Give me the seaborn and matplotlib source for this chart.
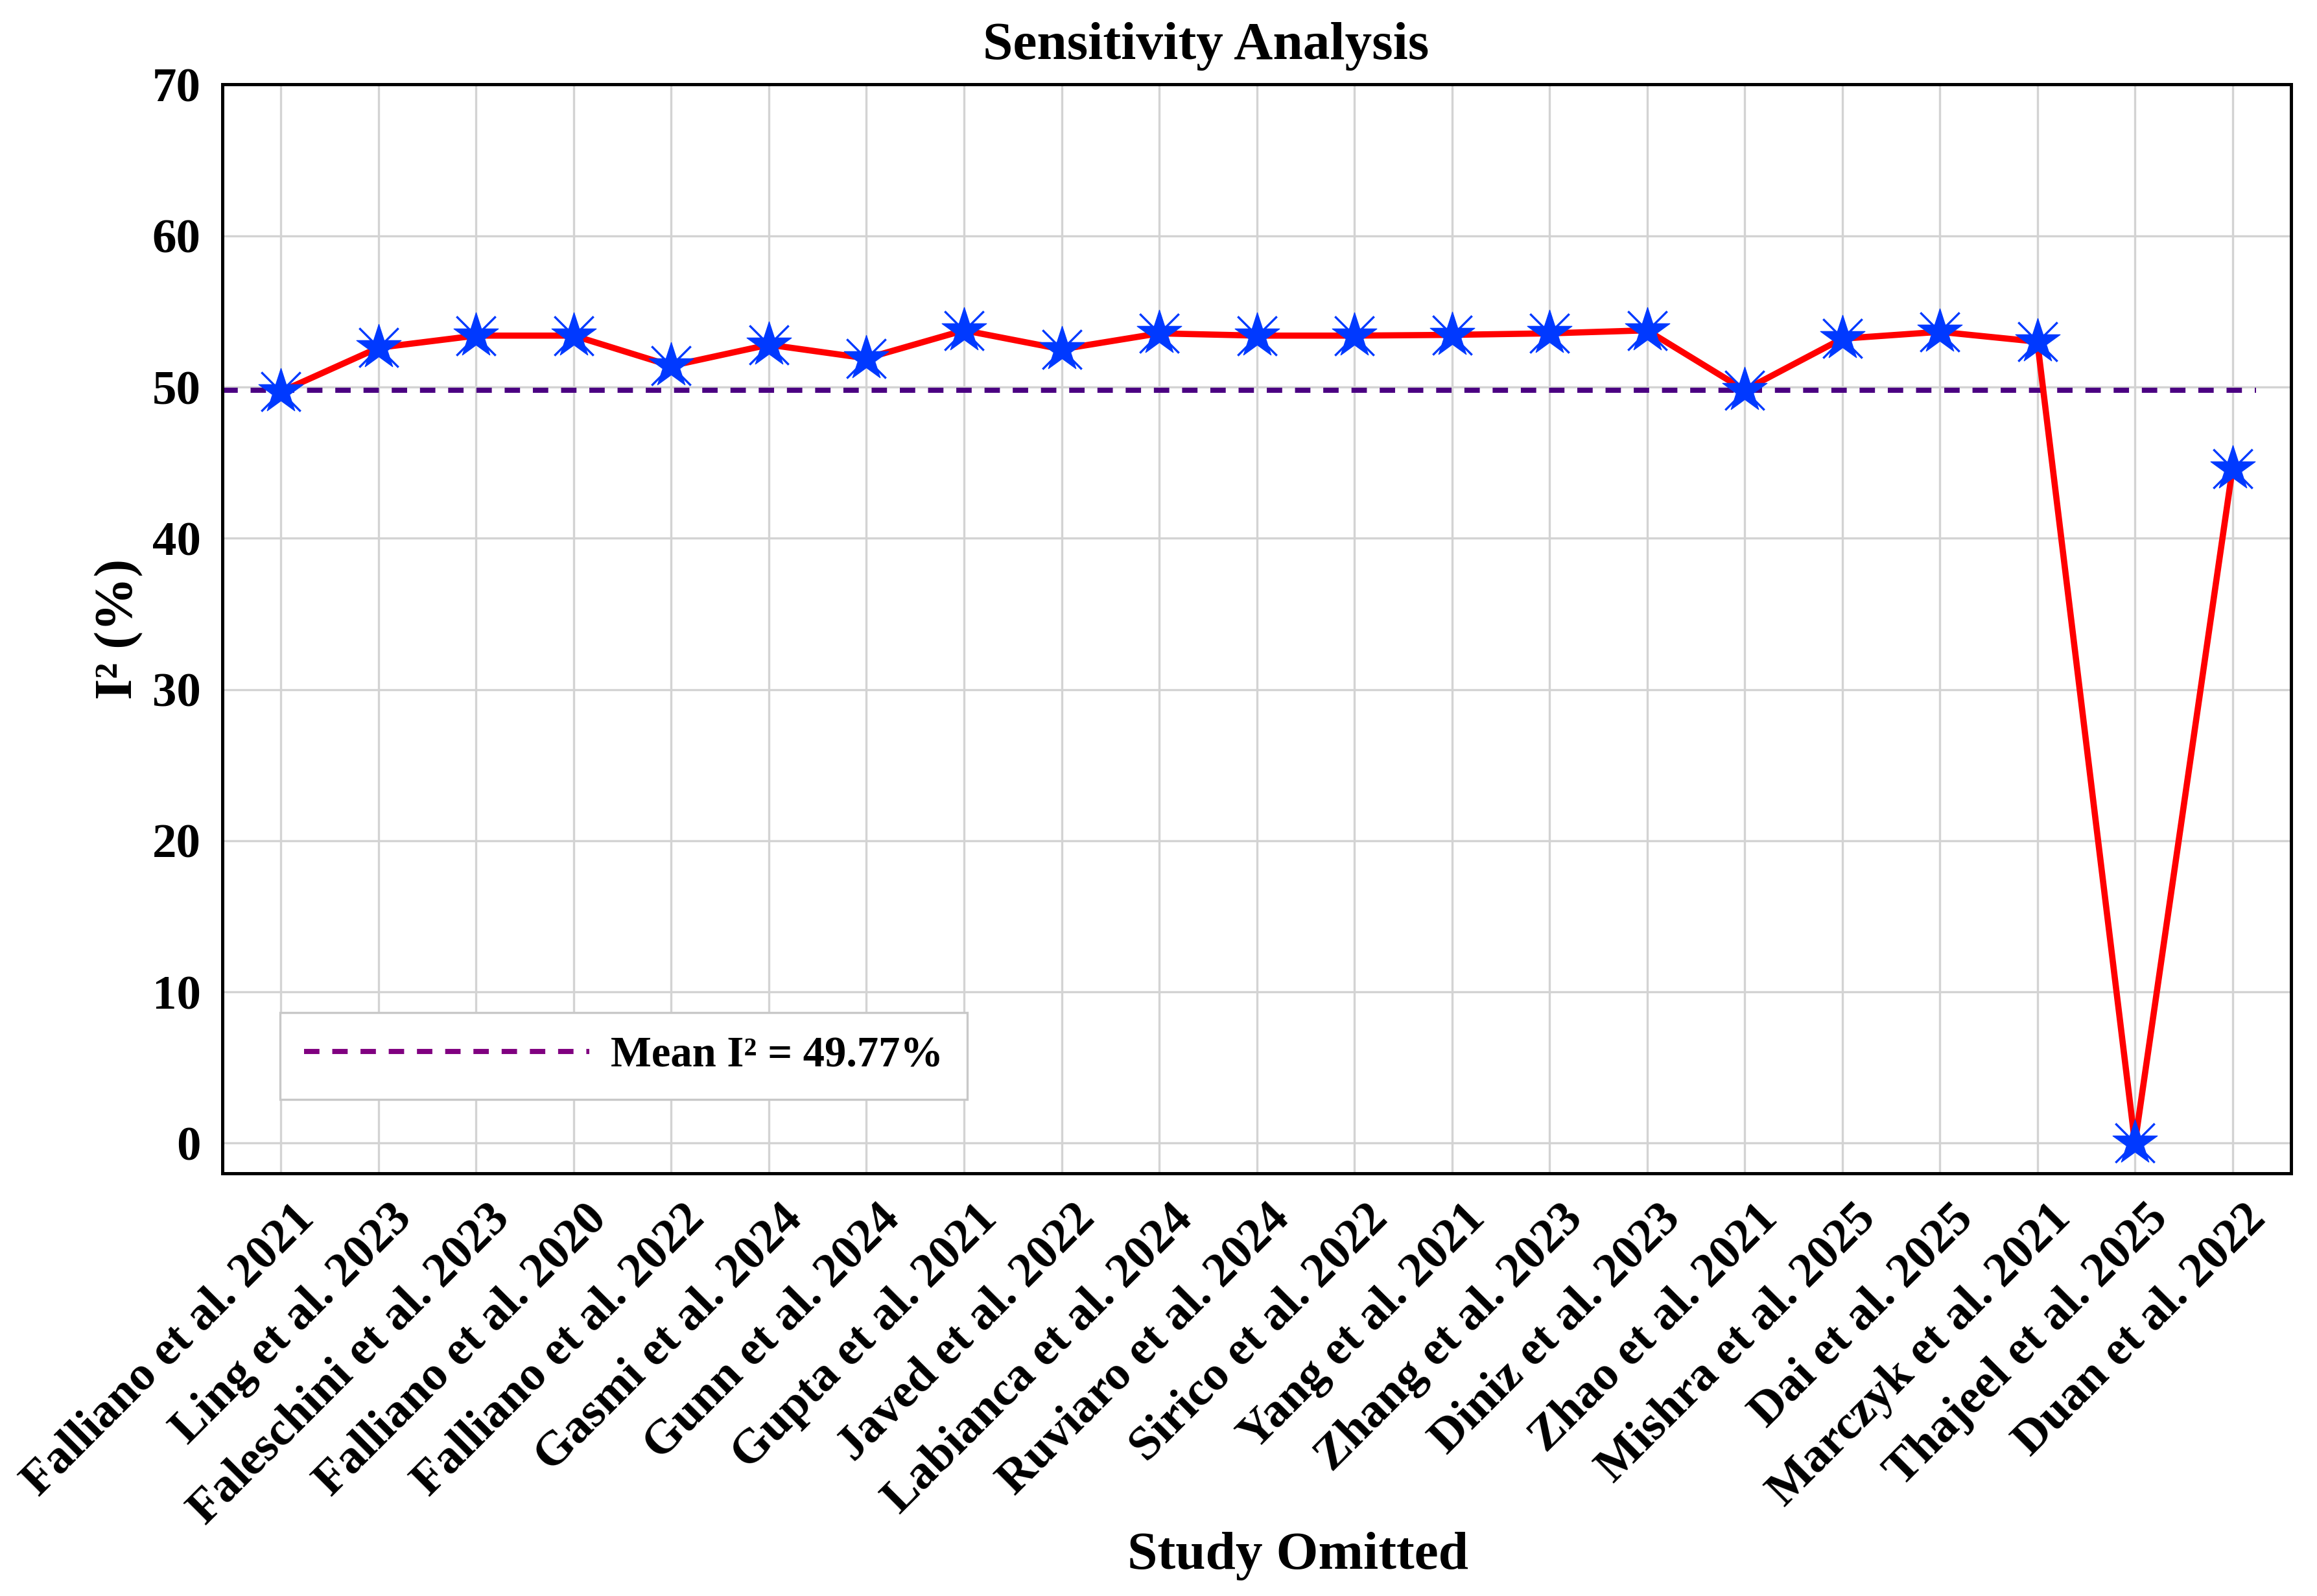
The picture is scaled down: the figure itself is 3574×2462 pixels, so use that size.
import numpy as np
import pandas as pd
import matplotlib
matplotlib.use("Agg")
import matplotlib.pyplot as plt
import matplotlib.transforms as mtransforms
import seaborn as sns
from matplotlib.lines import Line2D

studies = [
    "Falliano et al. 2021", "Ling et al. 2023", "Faleschini et al. 2023",
    "Falliano et al. 2020", "Falliano et al. 2022", "Gasmi et al. 2024",
    "Gunn et al. 2024", "Gupta et al. 2021", "Javed et al. 2022",
    "Labianca et al. 2024", "Ruviaro et al. 2024", "Sirico et al. 2022",
    "Yang et al. 2021", "Zhang et al. 2023", "Diniz et al. 2023",
    "Zhao et al. 2021", "Mishra et al. 2025", "Dai et al. 2025",
    "Marczyk et al. 2021", "Thajeel et al. 2025", "Duan et al. 2022",
]
i2_values = [
    49.7, 52.6, 53.4, 53.4, 51.4, 52.8, 51.9, 53.75, 52.5, 53.55, 53.4,
    53.4, 53.45, 53.55, 53.75, 49.8, 53.2, 53.65, 53.0, 0.0, 44.6,
]
mean_i2 = 49.77
y_ticks = [0, 10, 20, 30, 40, 50, 60, 70]

df = pd.DataFrame({"study": studies, "i2": i2_values})
df["pos"] = np.arange(len(df))

sns.set_style("whitegrid", {"grid.color": "#d3d3d3"})
plt.rcParams["font.family"] = ["Liberation Serif", "DejaVu Serif"]
plt.rcParams["font.weight"] = "bold"
plt.rcParams["text.color"] = "black"
plt.rcParams["axes.labelcolor"] = "black"
plt.rcParams["xtick.color"] = "black"
plt.rcParams["ytick.color"] = "black"

fig = plt.figure(figsize=(3574 / 300, 2462 / 300), dpi=300)
ax = fig.add_axes([0.096, 0.2648, 0.8928, 0.6822])

# red line + blue star markers (star with a thin x on top)
sns.lineplot(data=df, x="pos", y="i2", sort=False, color="#ff0000",
             linewidth=2.3, ax=ax, zorder=3)
sns.scatterplot(data=df, x="pos", y="i2", marker="*", s=300,
                color="#0039ff", edgecolor="#0039ff", linewidth=0.3,
                ax=ax, zorder=4)
sns.scatterplot(data=df, x="pos", y="i2", marker="x", s=210,
                color="#0039ff", linewidth=0.8, ax=ax, zorder=4)

ax.axhline(mean_i2, xmin=0, xmax=0.983, color="#4b0082", linewidth=1.9,
           dashes=(3.0, 2.5), zorder=2)

ax.set_xlim(-0.6, 20.6)
ax.set_ylim(-2, 70)
ax.set_yticks(y_ticks)
ax.set_xticks(df["pos"])
ax.set_xticklabels(studies, rotation=45, ha="right", va="top",
                   rotation_mode="anchor")
ax.tick_params(axis="both", length=0, labelsize=18)
ax.tick_params(axis="y", pad=8)
ax.tick_params(axis="x", pad=8.5)
shift = mtransforms.ScaledTranslation(4 / 72, 0, fig.dpi_scale_trans)
for lbl in ax.get_xticklabels():
    lbl.set_transform(lbl.get_transform() + shift)
for lbl in ax.get_xticklabels() + ax.get_yticklabels():
    lbl.set_fontweight("bold")

ax.grid(True, color="#d3d3d3", linewidth=0.8)
for sp in ax.spines.values():
    sp.set_color("black")
    sp.set_linewidth(1.2)

ax.set_xlabel("Study Omitted", fontsize=20, fontweight="bold", va="baseline")
ax.xaxis.set_label_coords(0.52, -0.363)
ax.set_ylabel("I² (%)", fontsize=20, fontweight="bold")
ax.yaxis.set_label_coords(-0.038, 0.5)

fig.text(0.5205, 0.963, "Sensitivity Analysis", fontsize=20,
         fontweight="bold", ha="center", va="baseline")

handle = Line2D([0], [0], color="#800080", linewidth=1.9, dashes=(3.0, 2.5))
leg = ax.legend([handle], [f"Mean I² = {mean_i2:.2f}%"], loc="lower left",
                bbox_to_anchor=(0.028, 0.068), borderaxespad=0,
                handlelength=6.6, handletextpad=0.5, borderpad=0.55,
                fancybox=False, framealpha=1, edgecolor="#c8c8c8",
                prop={"size": 16, "weight": "bold"})
leg.get_frame().set_linewidth(0.8)

fig.savefig("out.png", dpi=300)
